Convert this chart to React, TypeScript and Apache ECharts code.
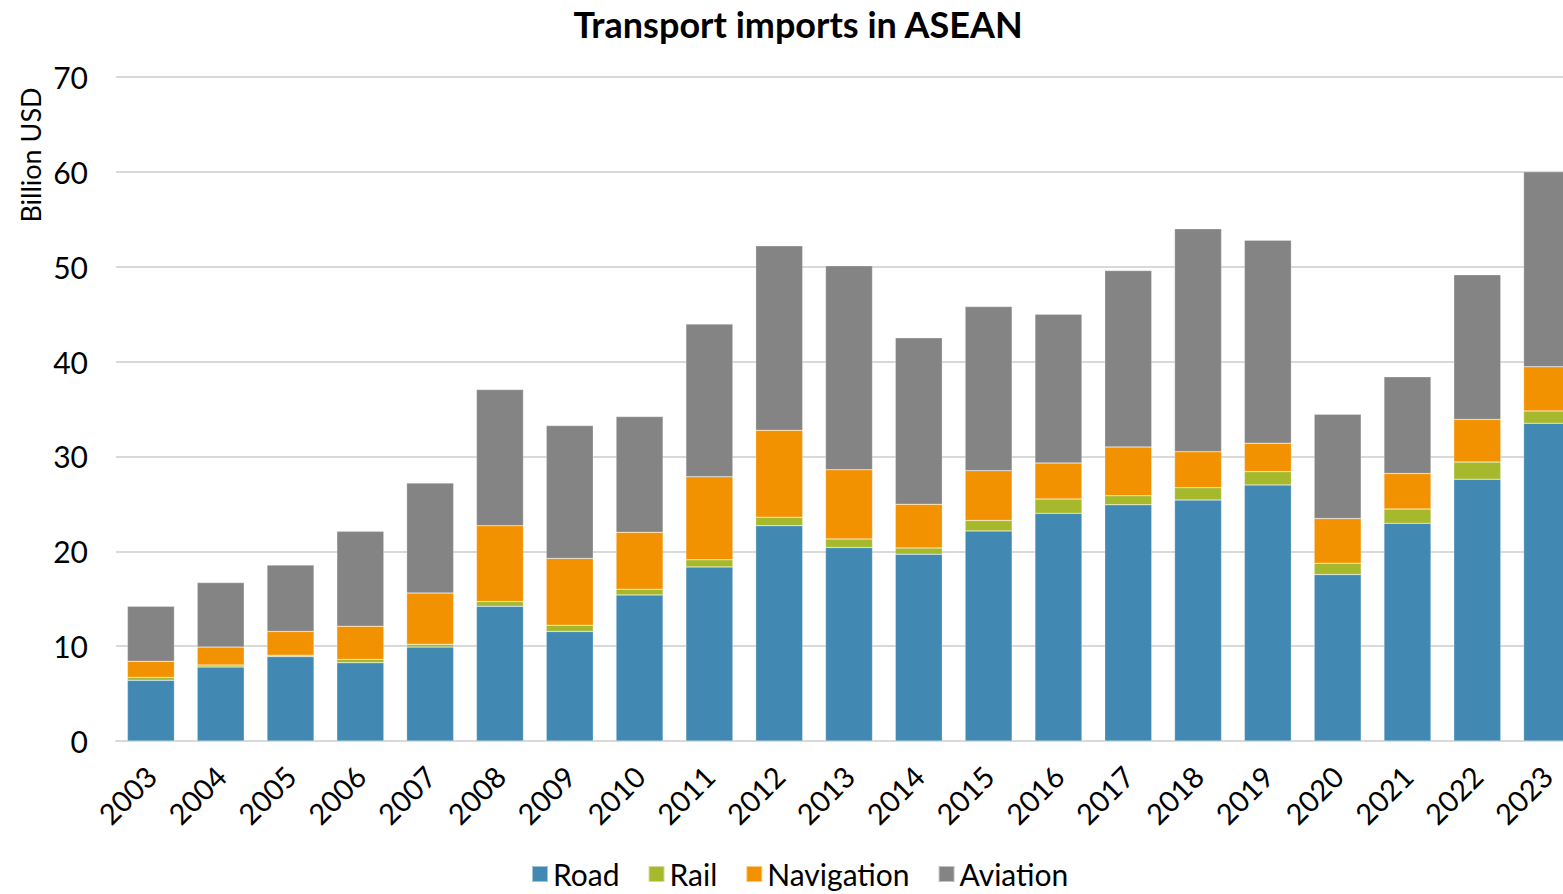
import React, { useEffect, useRef } from "react";
import * as echarts from "echarts";

const years = ["2003","2004","2005","2006","2007","2008","2009","2010","2011","2012","2013","2014","2015","2016","2017","2018","2019","2020","2021","2022","2023"];
const road = [6.4,7.8,8.9,8.25,9.9,14.2,11.55,15.4,18.35,22.7,20.4,19.7,22.15,24.0,24.9,25.4,27.0,17.55,22.95,27.6,33.5];
const rail = [0.3,0.2,0.15,0.35,0.3,0.5,0.65,0.6,0.75,0.9,0.9,0.65,1.1,1.5,0.95,1.3,1.4,1.2,1.5,1.8,1.3];
const navigation = [1.7,1.9,2.5,3.5,5.4,8.0,7.05,6.0,8.75,9.15,7.3,4.6,5.25,3.8,5.15,3.8,3.0,4.7,3.75,4.5,4.65];
const aviation = [5.8,6.8,7.0,10.0,11.6,14.35,14.0,12.2,16.1,19.45,21.5,17.55,17.3,15.7,18.6,23.5,21.4,11.0,10.2,15.25,20.55];

const FONT = "Lato, 'Noto Sans', sans-serif";

export default function App() {
  const ref = useRef<HTMLDivElement>(null);
  useEffect(() => {
    if (!ref.current) return;
    const chart = echarts.init(ref.current, null, { renderer: "svg" });
    const mk = (name: string, data: number[], color: string) => ({
      name,
      type: "bar",
      stack: "total",
      data,
      barWidth: 47,
      itemStyle: { color, borderColor: "rgba(255,255,255,0.5)", borderWidth: 0.5 },
    });
    chart.setOption({
      animation: false,
      backgroundColor: "#ffffff",
      textStyle: { fontFamily: FONT },
      title: {
        text: "Transport imports in ASEAN",
        left: 793,
        textAlign: "center",
        top: 1,
        textStyle: { fontSize: 36, fontWeight: "bold", color: "#000", fontFamily: FONT },
      },
      graphic: [
        {
          type: "text",
          x: 30,
          y: 155,
          rotation: Math.PI / 2,
          style: {
            text: "Billion USD",
            fontSize: 27,
            fill: "#000",
            fontFamily: FONT,
            align: "center",
            verticalAlign: "middle",
          },
        },
      ],
      legend: {
        bottom: 0,
        left: 526,
        itemWidth: 16,
        itemHeight: 16,
        itemGap: 28,
        icon: "rect",
        textStyle: { fontSize: 30, color: "#000", fontFamily: FONT },
        data: ["Road", "Rail", "Navigation", "Aviation"],
      },
      grid: { left: 116, right: 0, top: 77, bottom: 153, containLabel: false },
      xAxis: {
        type: "category",
        data: years,
        axisLine: { lineStyle: { color: "#d9d9d9", width: 2 } },
        axisTick: { show: false },
        axisLabel: { rotate: 45, fontSize: 29, color: "#000", margin: 30, fontFamily: FONT, interval: 0 },
      },
      yAxis: {
        type: "value",
        min: 0,
        max: 70,
        interval: 10,
        axisLine: { show: false },
        axisTick: { show: false },
        axisLabel: { fontSize: 30, color: "#000", margin: 28, fontFamily: FONT },
        splitLine: { lineStyle: { color: "#d9d9d9", width: 2 } },
      },
      series: [
        mk("Road", road, "#4189B3"),
        mk("Rail", rail, "#A6B82B"),
        mk("Navigation", navigation, "#F39200"),
        mk("Aviation", aviation, "#848484"),
      ],
    });
    return () => chart.dispose();
  }, []);
  return (
    <div style={{ position: "fixed", left: 0, top: 0, width: 1563, height: 894, overflow: "hidden" }}>
      <div ref={ref} style={{ position: "absolute", left: 0, top: 0, width: 1582, height: 894 }} />
    </div>
  );
}
